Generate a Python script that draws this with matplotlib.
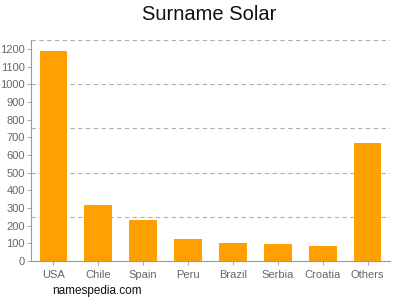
import matplotlib
matplotlib.use("Agg")
import matplotlib.pyplot as plt

plt.rcParams['font.family'] = ['Liberation Sans', 'DejaVu Sans']

countries = ['USA', 'Chile', 'Spain', 'Peru', 'Brazil', 'Serbia', 'Croatia', 'Others']
counts = [1185, 316, 233, 122, 100, 96, 85, 670]
y_ticks = list(range(0, 1300, 100))
grid_levels = [250, 500, 750, 1000, 1250]

fig = plt.figure(figsize=(4, 3), dpi=100)
ax = fig.add_axes([0.0775, 0.13, 0.8975, 0.7367])

ax.bar(range(len(countries)), counts, width=0.62, color='#FFA000', zorder=2)
for lvl in grid_levels:
    ax.axhline(lvl, color='#b0b0b0', linestyle=(0, (4, 3)), linewidth=0.8, zorder=1)

ax.set_xlim(-0.5, 7.5)
ax.set_ylim(0, 1250)
ax.set_xticks(range(len(countries)))
ax.set_xticklabels(countries)
ax.set_yticks(y_ticks)
ax.tick_params(axis='both', labelsize=8, colors='#999999', length=3, width=0.6)
ax.tick_params(axis='y', pad=1.5)
for lab in ax.get_xticklabels() + ax.get_yticklabels():
    lab.set_color('#666666')

for side in ['top', 'right']:
    ax.spines[side].set_visible(False)
for side in ['left', 'bottom']:
    ax.spines[side].set_color('#999999')
    ax.spines[side].set_linewidth(0.8)

fig.text(0.5225, 0.95, 'Surname Solar', ha='center', va='center', fontsize=14.5, color='#111111')
fig.text(0.13, 0.03, 'namespedia.com', ha='left', va='center', fontsize=8.5, color='#111111')

fig.savefig('out.png', dpi=100)
